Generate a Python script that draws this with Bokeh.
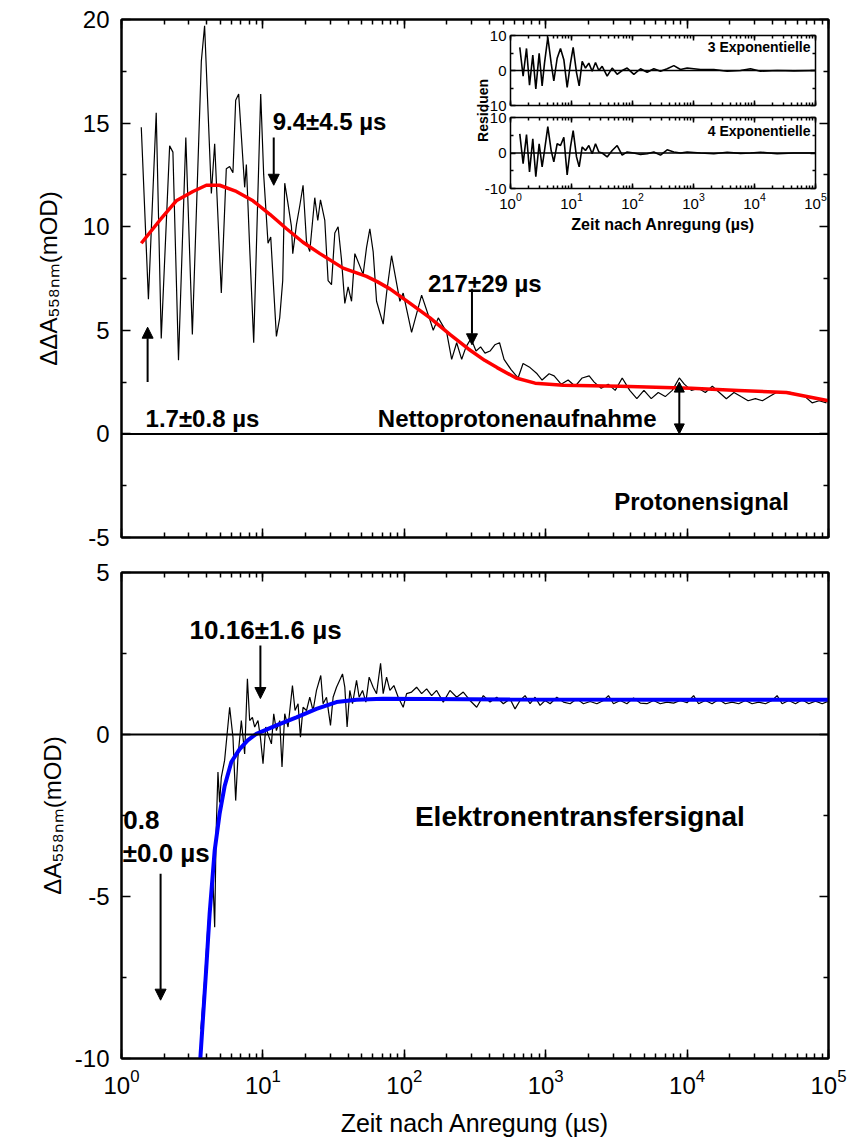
import math
from bokeh.plotting import figure
from bokeh.layouts import column
from bokeh.models import (Range1d, LogScale, LinearAxis, LogAxis, FixedTicker, LogTicker,
                          Arrow, NormalHead, Span, CustomJSTickFormatter)
from bokeh.core.properties import value
from bokeh.embed import file_html
from bokeh.resources import INLINE

# ---------------- data ----------------
# upper panel: proton signal (time in µs, ΔΔA in mOD)
prot_t = [1.38, 1.55, 1.76, 1.91, 2.19, 2.31, 2.53, 2.85, 3.17, 3.67, 3.87, 4.32, 4.56, 5.08, 5.51,
          5.82, 6.14, 6.42, 6.74, 7.43, 7.64, 8.06, 8.61, 9.65, 10.13, 10.87, 11.36, 12.46, 13.15,
          13.81, 14.27, 14.98, 15.92, 16.26, 17.27, 18.22, 19.23, 20.33, 21.45, 23.27, 24.44, 25.54,
          27.40, 28.91, 30.56, 32.25, 34.03, 35.97, 37.96, 40.06, 42.35, 44.69, 51.15, 54.08, 57.06,
          60.22, 63.66, 70.90, 74.93, 81.28, 93.07, 98.2, 112.6, 118.9, 132.6, 151.8, 160.2, 173.9,
          199.4, 216.3, 234.6, 254.6, 273.2, 296.3, 321.5, 346.5, 372.3, 403.9, 436.8, 471.6, 507.5,
          568.9, 637.6, 691.7, 775.3, 869.2, 942.9, 1057, 1147, 1286, 1441, 1616, 1811, 2030, 2202,
          2469, 2767, 3101, 3477, 3929, 4412, 4951, 5578, 6252, 7008, 7857, 8808, 9555, 10710, 12000,
          13460, 15080, 16900, 18950, 21450, 24040, 27010, 30410, 34100, 38220, 42820, 48010, 53810,
          60330, 68180, 76550, 85930, 96780]
prot_v = [14.8, 6.5, 15.5, 4.6, 13.9, 13.6, 3.55, 14.3, 4.8, 18.0, 19.7, 11.6, 14.0, 6.8, 12.8,
          12.9, 12.6, 16.1, 16.4, 11.9, 13.0, 9.0, 4.4, 16.4, 12.5, 9.2, 9.5, 4.7, 5.6,
          7.4, 12.1, 11.2, 10.0, 8.7, 10.1, 11.0, 12.0, 9.3, 8.8, 11.4, 10.3, 11.3,
          10.3, 7.4, 7.2, 9.7, 10.0, 8.4, 6.3, 7.1, 6.4, 8.7, 7.7, 9.0, 9.9,
          8.8, 6.4, 5.3, 6.8, 8.6, 6.4, 6.8, 4.9, 5.5, 6.7, 5.5, 5.0, 5.6,
          4.9, 3.6, 4.4, 3.6, 4.2, 4.6, 4.0, 4.2, 3.9, 4.0, 4.3, 4.4, 3.6,
          3.1, 2.7, 3.4, 3.2, 2.9, 2.6, 2.9, 2.8, 2.4, 2.6, 2.3, 2.7, 2.8, 2.5,
          2.2, 2.4, 2.1, 2.7, 2.1, 1.7, 2.1, 1.7, 2.0, 1.8, 2.1, 2.7, 2.4, 2.1, 2.2,
          2.0, 2.3, 2.0, 1.7, 2.0, 1.8, 1.6, 1.7, 1.6, 1.8, 2.0, 2.0, 2.0,
          1.9, 1.8, 1.5, 1.6, 1.5]
prot_fit_t = [1.38, 1.86, 2.44, 3.20, 3.98, 4.94, 6.49, 8.51, 11.2, 14.7, 19.2, 25.3, 36.9, 54.1,
              64.3, 79.1, 110, 152, 210, 284, 370, 453, 617, 841, 1330, 3360, 10700, 23100, 50400,
              100000]
prot_fit_v = [9.2, 10.3, 11.25, 11.7, 12.0, 12.0, 11.7, 11.25, 10.6, 9.9, 9.25, 8.7, 8.0, 7.6,
              7.35, 7.0, 6.3, 5.6, 4.8, 4.1, 3.55, 3.2, 2.7, 2.45, 2.35, 2.3, 2.2, 2.1, 2.0, 1.6]

# lower panel: electron transfer signal
et_t = [3.64, 3.87, 4.07, 4.27, 4.41, 4.56, 4.67, 4.81, 4.94, 5.08, 5.36, 5.82, 6.14, 6.42, 6.66,
        7.04, 7.43, 7.77, 8.06, 8.43, 8.75, 9.23, 9.60, 10.02, 10.47, 11.05, 11.49, 11.93, 12.46,
        13.15, 13.65, 14.27, 15.06, 16.18, 16.88, 17.73, 18.43, 19.23, 20.33, 21.45, 22.63, 23.93,
        25.66, 26.65, 28.17, 30.06, 31.37, 33.16, 36.56, 37.96, 39.40, 41.18, 43.04, 45.95, 47.94,
        50.67, 53.46, 56.42, 60.22, 63.66, 67.95, 70.90, 74.93, 79.07, 84.40, 90.54, 98.2, 103.8,
        112.6, 122.2, 132.6, 143.9, 156.1, 169.3, 188.6, 210.3, 234.6, 261.3, 291.5, 325.1, 362.2,
        403.9, 450.5, 501.7, 559.6, 607.2, 658.7, 714.6, 775.3, 841.2, 912.6, 990.4, 1075, 1198,
        1335, 1489, 1661, 1849, 2063, 2301, 2563, 2780, 3016, 3364, 3752, 4180, 4664, 5200, 5790,
        6460, 7205, 8025, 8952, 9984, 11120, 12060, 13460, 15010, 16720, 18650, 20800, 23160,
        25840, 28820, 32100, 35800, 39930, 43300, 46990, 52360, 58400, 65130, 72550, 80910,
        90250, 100000]
et_v = [-9.1, -7.6, -6.0, -5.0, -4.2, -5.95, -3.0, -1.16, -2.1, -1.32, -0.80, 0.84, -0.08, -2.04, -0.70,
        0.43, -0.60, 1.72, 0.43, 0.53, 0.23, 0.43, -0.08, -0.90, 0.23, -0.08, -0.29, 0.64, 0.12,
        0.43, -1.0, 0.64, 0.23, 1.51, 0.74, 0.95, -0.08, 0.84, 0.74, 1.15, 0.74, 1.36,
        1.82, 0.95, 1.15, 0.28, 1.15, 1.46, 1.87, 1.46, 0.23, 1.36, 0.95, 1.67, 1.15,
        1.36, 1.0, 1.77, 1.46, 1.26, 2.20, 1.26, 1.77, 1.36, 1.51, 1.15, 0.84, 1.26,
        1.31, 1.46, 1.26, 1.41, 1.20, 1.36, 1.0, 1.36, 1.15, 1.31, 1.05, 0.84, 1.20,
        1.0, 1.15, 0.95, 1.10, 0.79, 1.05, 1.20, 0.95, 1.15, 0.90, 1.05, 0.95, 1.15,
        1.0, 0.95, 1.10, 0.95, 1.02, 0.95, 1.05, 1.20, 0.95, 1.05, 0.95, 1.13, 0.97, 0.95, 1.05,
        0.95, 1.0, 0.97, 1.05, 0.98, 1.20, 0.95, 1.05, 0.95, 1.08, 0.95, 1.0, 0.95,
        1.05, 0.95, 1.0, 0.95, 1.05, 1.20, 0.95, 1.05, 0.95, 1.07, 0.95, 1.03,
        0.95, 1.03]
et_fit_t = [3.61, 3.98, 4.20, 4.56, 4.94, 5.36, 5.98, 6.85, 7.80, 8.99, 12.46, 17.27, 23.93, 33.16,
            45.95, 70.54, 559.6, 10000, 100000]
et_fit_v = [-10.0, -7.18, -5.53, -3.58, -2.45, -1.6, -0.85, -0.45, -0.18, 0.02, 0.28, 0.53, 0.79, 1.0,
            1.07, 1.10, 1.08, 1.07, 1.07]

# inset: residuals of the 3- and 4-exponential fits
res_t = [1.42, 1.61, 1.83, 2.05, 2.32, 2.60, 2.95, 3.30, 3.61, 4.09, 4.64, 5.13, 5.82, 6.60, 7.49,
         8.49, 9.63, 10.65, 12.08, 13.36, 14.96, 16.96, 19.24, 21.82, 24.75, 28.06, 31.82, 38.43,
         46.42, 56.06, 67.70, 81.76, 105.2, 135.3, 173.9, 223.7, 287.7, 370.1, 476.0, 612.2, 787.5,
         1303, 2154, 3564, 5895, 8602, 12540, 23530, 44140, 100000]
res3_v = [6.6, -1.6, 6.3, -4.2, 4.4, -5.3, 4.9, -4.4, 2.1, 9.5, 2.1, -3.0, 3.5, 6.3, 3.1,
          -4.8, 2.1, 6.6, -0.6, -4.4, 2.6, 0.7, 2.1, -0.2, 2.3, 0.0, 1.2, -1.6,
          0.7, -1.1, 0.0, 0.7, -1.1, 0.5, -0.5, 0.5, -0.2, 0.5, 1.4, 0.3, 0.7,
          0.3, 0.3, -0.2, 0.0, 0.5, -0.2, 0.0, -0.1, 0.0]
res4_v = [5.4, -3.0, 5.2, -5.3, 4.0, -6.7, 2.6, -3.9, 0.7, 7.4, 0.7, -2.5, 2.6, 2.1, 4.4,
          -6.2, 1.7, 6.3, -1.1, -3.9, 1.7, 0.7, 2.1, -0.2, 2.6, 0.3, 0.0, -1.1,
          0.7, 2.1, -0.6, 0.3, 0.0, -0.4, -0.2, 0.3, -0.6, 0.9, 0.3, 0.0, 0.3,
          0.0, -0.2, 0.2, -0.1, 0.0, 0.2, -0.2, 0.0, 0.0]

# axes
x_lim = [1, 100000]
top_y_lim = [-5, 20]
bot_y_lim = [-10, 5]
top_y_major = [-5, 0, 5, 10, 15, 20]
top_y_minor = [-2.5, 2.5, 7.5, 12.5, 17.5]
bot_y_major = [-10, -5, 0, 5]
bot_y_minor = [-7.5, -2.5, 2.5]
res_lim = [-10, 10]
res_y_major = [-10, 0, 10]
res_y_minor = [-5, 5]

# annotations
top_lbl_text = ["9.4±4.5 µs", "217±29 µs", "1.7±0.8 µs", "Nettoprotonenaufnahme", "Protonensignal"]
top_lbl_t = [11.73, 146.9, 1.48, 65.0, 3050]
top_lbl_v = [15.1, 7.26, 0.75, 0.75, -3.25]
top_arrow_t = [11.93, 301, 1.53]
top_arrow_from = [14.3, 7.0, 2.5]
top_arrow_to = [12.0, 4.3, 5.15]
net_t = [8808]
net_from = [0.0]
net_to = [2.5]
bot_lbl_text = ["10.16±1.6 µs", "0.8", "±0.0 µs", "Elektronentransfersignal"]
bot_lbl_t = [3.03, 1.03, 1.02, 118.9]
bot_lbl_v = [3.21, -2.65, -3.65, -2.53]
bot_lbl_size = ["26px", "26px", "26px", "28px"]
bot_arrow_t = [9.60, 1.89]
bot_arrow_from = [2.75, -4.3]
bot_arrow_to = [1.11, -8.2]
inset_lbl_text = ["3 Exponentielle", "4 Exponentielle"]
inset_lbl_t = [82800, 82800]
inset_lbl_v = [6.6, 6.3]

# ---------------- layout (pixels) ----------------
FONT = "Liberation Sans"
W = 848
FRAME_L, FRAME_R = 121, 828
TOP_T, TOP_B, TOP_H = 19, 537, 554
BOT_T, BOT_B, BOT_H = 572, 1058, 590
INSET_L, INSET_R = 510, 815
R3_T, R3_B = 35, 105
R4_T, R4_B = 117, 188

HYPHEN = "return tick.toString()"


def style_axis(ax, labels=True, size="24px", tick=9, minor=5, lw=2):
    ax.axis_line_width = lw
    ax.axis_line_color = "black"
    ax.major_tick_in = tick
    ax.major_tick_out = 0
    ax.minor_tick_in = minor
    ax.minor_tick_out = 0
    ax.major_tick_line_width = 1.5
    ax.minor_tick_line_width = 1.5
    ax.major_label_text_font = FONT
    ax.major_label_text_font_size = size
    ax.major_label_text_color = "black"
    ax.axis_label_text_font = FONT
    ax.axis_label_text_font_style = "normal"
    ax.axis_label_text_color = "black"
    if not labels:
        ax.formatter = CustomJSTickFormatter(code="return ''")
        ax.major_label_text_font_size = "0px"


def x_ticker():
    return LogTicker(desired_num_ticks=6, num_minor_ticks=10)


def make_fig(y_lim, height, bt, bb):
    p = figure(width=W, height=height, x_axis_type="log",
               x_range=Range1d(*x_lim), y_range=Range1d(*y_lim),
               min_border_left=FRAME_L, min_border_right=W - FRAME_R,
               min_border_top=bt, min_border_bottom=bb,
               output_backend="svg", toolbar_location=None)
    p.grid.visible = False
    p.background_fill_color = "white"
    p.border_fill_color = "white"
    p.outline_line_color = "black"
    p.outline_line_width = 2
    return p


def add_mirrors(p, yt, ymin):
    top = LogAxis(ticker=x_ticker())
    style_axis(top, labels=False)
    p.add_layout(top, "above")
    right = LinearAxis(ticker=FixedTicker(ticks=yt, minor_ticks=ymin))
    style_axis(right, labels=False)
    p.add_layout(right, "right")


# ---------- upper panel ----------
p1 = make_fig(top_y_lim, TOP_H, TOP_T, TOP_H - TOP_B)
p1.xaxis[0].ticker = x_ticker()
style_axis(p1.xaxis[0], labels=False)
p1.yaxis[0].ticker = FixedTicker(ticks=top_y_major, minor_ticks=top_y_minor)
style_axis(p1.yaxis[0])
p1.yaxis[0].formatter = CustomJSTickFormatter(code=HYPHEN)
p1.yaxis[0].major_label_standoff = 12
p1.yaxis[0].axis_label = "ΔΔA₅₅₈ₙₘ(mOD)"
p1.yaxis[0].axis_label_text_font_size = "24px"
p1.yaxis[0].axis_label_standoff = 18
add_mirrors(p1, top_y_major, top_y_minor)

p1.add_layout(Span(location=0, dimension="width", line_color="black", line_width=2))
p1.line(prot_t, prot_v, line_color="black", line_width=1.2)
p1.line(prot_fit_t, prot_fit_v, line_color="#ff0000", line_width=3.5)

p1.text(x=top_lbl_t, y=top_lbl_v, text=top_lbl_text, text_font=value(FONT),
        text_font_style="bold", text_font_size="24px", text_baseline="middle",
        text_align="left", text_color="black")
for t, a, b in zip(top_arrow_t, top_arrow_from, top_arrow_to):
    p1.add_layout(Arrow(end=NormalHead(size=11, fill_color="black", line_color="black"),
                        x_start=t, y_start=a, x_end=t, y_end=b, line_width=2))
for t, a, b in zip(net_t, net_from, net_to):
    p1.add_layout(Arrow(start=NormalHead(size=10, fill_color="black", line_color="black"),
                        end=NormalHead(size=10, fill_color="black", line_color="black"),
                        x_start=t, y_start=a, x_end=t, y_end=b, line_width=2))

# ---------- inset (residuals) inside upper panel ----------
lo, hi = math.log10(x_lim[0]), math.log10(x_lim[1])
dpp = (hi - lo) / (INSET_R - INSET_L)
p1.extra_x_ranges = {"ix": Range1d(10 ** (lo - (INSET_L - FRAME_L) * dpp),
                                   10 ** (hi + (FRAME_R - INSET_R) * dpp))}
p1.extra_x_scales = {"ix": LogScale()}


def inset_range(px_t, px_b):
    k = (res_lim[1] - res_lim[0]) / (px_b - px_t)
    return Range1d(res_lim[0] - (TOP_B - px_b) * k, res_lim[1] + (px_t - TOP_T) * k)


p1.extra_y_ranges = {"r3": inset_range(R3_T, R3_B), "r4": inset_range(R4_T, R4_B)}

for rn, vals in (("r3", res3_v), ("r4", res4_v)):
    p1.quad(left=[x_lim[0]], right=[x_lim[1]], bottom=[res_lim[0]], top=[res_lim[1]],
            x_range_name="ix", y_range_name=rn, fill_color="white", line_color=None)
    p1.line(x_lim, [0, 0], x_range_name="ix", y_range_name=rn, line_color="black", line_width=1.5)
    p1.line(res_t, vals, x_range_name="ix", y_range_name=rn, line_color="black", line_width=1.6)
    ya = LinearAxis(x_range_name="ix", y_range_name=rn, fixed_location=x_lim[0], bounds=tuple(res_lim),
                    ticker=FixedTicker(ticks=res_y_major, minor_ticks=res_y_minor))
    style_axis(ya, size="15px", tick=5, minor=3, lw=1.5)
    ya.formatter = CustomJSTickFormatter(code=HYPHEN)
    ya.major_label_standoff = 4
    p1.add_layout(ya, "left")
    yb = LinearAxis(x_range_name="ix", y_range_name=rn, fixed_location=x_lim[1], bounds=tuple(res_lim),
                    ticker=FixedTicker(ticks=res_y_major, minor_ticks=res_y_minor))
    style_axis(yb, labels=False, tick=5, minor=3, lw=1.5)
    p1.add_layout(yb, "right")
    xt = LogAxis(x_range_name="ix", y_range_name=rn, fixed_location=res_lim[1], bounds=tuple(x_lim),
                 ticker=x_ticker())
    style_axis(xt, labels=False, tick=5, minor=3, lw=1.5)
    p1.add_layout(xt, "above")
    xb = LogAxis(x_range_name="ix", y_range_name=rn, fixed_location=res_lim[0], bounds=tuple(x_lim),
                 ticker=x_ticker())
    if rn == "r4":
        style_axis(xb, size="15px", tick=5, minor=3, lw=1.5)
        xb.major_label_standoff = 4
        xb.axis_label = "Zeit nach Anregung (µs)"
        xb.axis_label_text_font_size = "16px"
        xb.axis_label_text_font_style = "bold"
        xb.axis_label_standoff = 4
    else:
        style_axis(xb, labels=False, tick=5, minor=3, lw=1.5)
    p1.add_layout(xb, "below")

p1.text(x=[inset_lbl_t[0]], y=[inset_lbl_v[0]], text=[inset_lbl_text[0]], x_range_name="ix", y_range_name="r3",
        text_font=value(FONT), text_font_style="bold", text_font_size="14px",
        text_align="right", text_baseline="middle")
p1.text(x=[inset_lbl_t[1]], y=[inset_lbl_v[1]], text=[inset_lbl_text[1]], x_range_name="ix", y_range_name="r4",
        text_font=value(FONT), text_font_style="bold", text_font_size="14px",
        text_align="right", text_baseline="middle")
p1.text(x=[0.36], y=[-11.4], text=["Residuen"], x_range_name="ix", y_range_name="r3",
        text_font=value(FONT), text_font_style="bold", text_font_size="14px",
        text_align="center", text_baseline="middle", angle=math.pi / 2)

# ---------- lower panel ----------
p2 = make_fig(bot_y_lim, BOT_H, BOT_T - TOP_H, BOT_H - (BOT_B - TOP_H))
p2.xaxis[0].ticker = x_ticker()
style_axis(p2.xaxis[0])
p2.xaxis[0].major_label_standoff = 10
p2.xaxis[0].axis_label = "Zeit nach Anregung (µs)"
p2.xaxis[0].axis_label_text_font_size = "25px"
p2.xaxis[0].axis_label_standoff = 12
p2.yaxis[0].ticker = FixedTicker(ticks=bot_y_major, minor_ticks=bot_y_minor)
style_axis(p2.yaxis[0])
p2.yaxis[0].formatter = CustomJSTickFormatter(code=HYPHEN)
p2.yaxis[0].major_label_standoff = 12
p2.yaxis[0].axis_label = "ΔA₅₅₈ₙₘ(mOD)"
p2.yaxis[0].axis_label_text_font_size = "24px"
p2.yaxis[0].axis_label_standoff = 6
add_mirrors(p2, bot_y_major, bot_y_minor)

p2.add_layout(Span(location=0, dimension="width", line_color="black", line_width=2))
p2.line(et_t, et_v, line_color="black", line_width=1.2)
p2.line(et_fit_t, et_fit_v, line_color="#0000ff", line_width=4)

for txt, t, v, s in zip(bot_lbl_text, bot_lbl_t, bot_lbl_v, bot_lbl_size):
    p2.text(x=[t], y=[v], text=[txt], text_font=value(FONT), text_font_style="bold",
            text_font_size=s, text_baseline="middle", text_align="left", text_color="black")
for t, a, b in zip(bot_arrow_t, bot_arrow_from, bot_arrow_to):
    p2.add_layout(Arrow(end=NormalHead(size=11, fill_color="black", line_color="black"),
                        x_start=t, y_start=a, x_end=t, y_end=b, line_width=2))

layout = column(p1, p2, spacing=0)
open("out.html", "w").write(file_html(layout, INLINE))
